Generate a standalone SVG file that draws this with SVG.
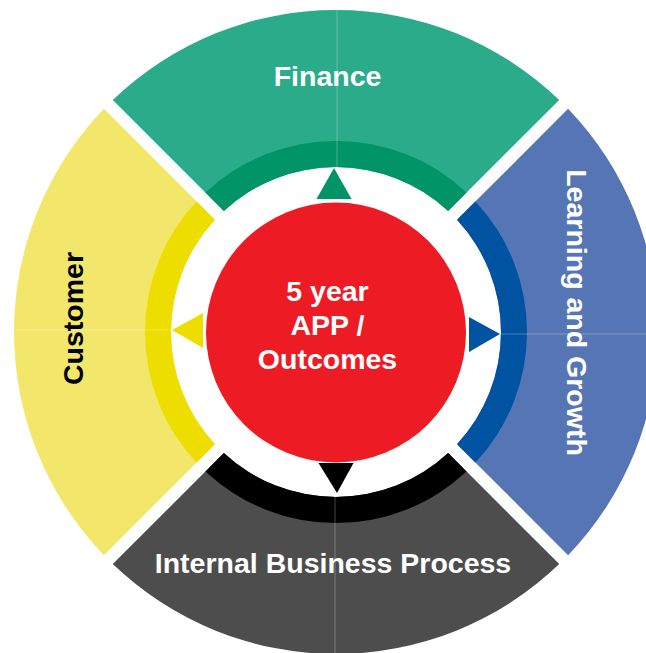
<svg xmlns="http://www.w3.org/2000/svg" width="646" height="653" viewBox="0 0 646 653">
<style>
.lbl{font-family:"Liberation Sans",Arial,Helvetica,sans-serif;font-weight:bold;font-size:28.5px;text-anchor:middle}
.w{fill:#ffffff}
.k{fill:#000000}
.sep{stroke:#ffffff;stroke-opacity:0.3;stroke-width:0.9}
</style>
<defs>
<path id="sector" d="M112.81,99.90 A322,322 0 0 1 559.19,99.90 L448.13,210.96 A165,165 0 0 0 223.87,210.96 Z"/>
<path id="band" d="M205.47,192.56 A191,191 0 0 1 466.53,192.56 L448.13,210.96 A165,165 0 0 0 223.87,210.96 Z"/>
</defs>
<rect width="646" height="653" fill="#ffffff"/>
<g id="finance">
<use href="#sector" fill="#2AAB8A"/>
<use href="#band" fill="#009467"/>
<line class="sep" x1="337" y1="10" x2="337" y2="167"/>
<polygon points="334,168 316.5,199 351.5,199" fill="#009467"/>
<text class="lbl w" x="327.5" y="86">Finance</text>
</g>
<g id="learning">
<use href="#sector" fill="#5575B5" transform="rotate(90 336 332)"/>
<use href="#band" fill="#0053A0" transform="rotate(90 336 332)"/>
<line class="sep" x1="501" y1="334" x2="646" y2="334"/>
<polygon points="500,334 469,317 469,352" fill="#0053A0"/>
<text class="lbl w" transform="translate(567 312.5) rotate(90)">Learning and Growth</text>
</g>
<g id="internal">
<use href="#sector" fill="#4D4D4D" transform="rotate(180 336 332)"/>
<use href="#band" fill="#000000" transform="rotate(180 336 332)"/>
<line class="sep" x1="335" y1="497" x2="335" y2="653"/>
<polygon points="337,493 318.5,463 353.5,463" fill="#000000"/>
<text class="lbl w" x="333" y="573">Internal Business Process</text>
</g>
<g id="customer">
<use href="#sector" fill="#F2E76B" transform="rotate(270 336 332)"/>
<use href="#band" fill="#EDDE00" transform="rotate(270 336 332)"/>
<line class="sep" x1="14" y1="330" x2="171" y2="330"/>
<polygon points="172,330 203,313 203,348" fill="#EDDE00"/>
<text class="lbl k" transform="translate(83 318.5) rotate(-90)">Customer</text>
</g>
<g id="outcomes">
<circle cx="336" cy="332.5" r="130" fill="#ED1C24"/>
<text class="lbl w" x="327.5" y="300.7">5 year</text>
<text class="lbl w" x="327.5" y="335">APP /</text>
<text class="lbl w" x="327.5" y="369.3">Outcomes</text>
</g>
<g id="connectors"></g>
</svg>
